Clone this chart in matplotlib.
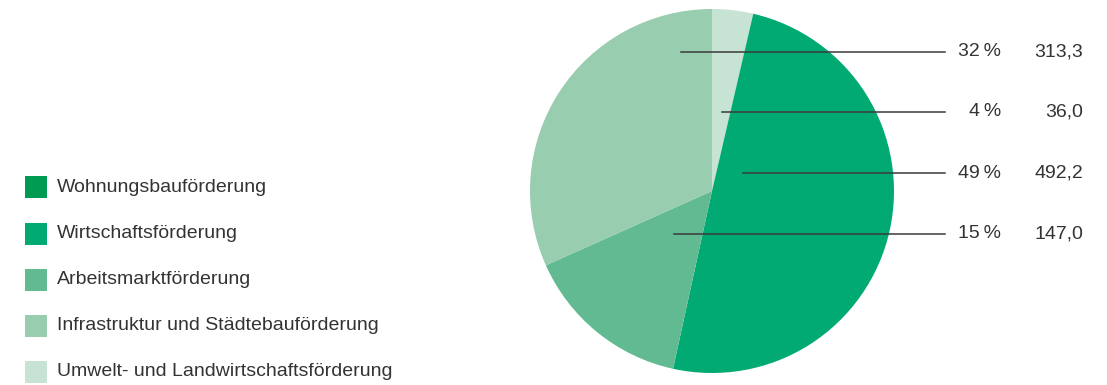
import matplotlib.pyplot as plt

# legend entries (top to bottom)
categories = ["Wohnungsbauförderung", "Wirtschaftsförderung", "Arbeitsmarktförderung",
              "Infrastruktur und Städtebauförderung", "Umwelt- und Landwirtschaftsförderung"]
colors = ["#009B52", "#00AA72", "#62BA92", "#98CDAF", "#C6E3D4"]

# pie wedges, clockwise from 12 o'clock
pie_labels = ["Umwelt- und Landwirtschaftsförderung", "Wirtschaftsförderung",
              "Arbeitsmarktförderung", "Infrastruktur und Städtebauförderung"]
pie_values = [36.0, 492.2, 147.0, 313.3]

# callouts (top to bottom)
callout_labels = ["Infrastruktur und Städtebauförderung", "Umwelt- und Landwirtschaftsförderung",
                  "Wirtschaftsförderung", "Arbeitsmarktförderung"]
callout_pct = ["32", "4", "49", "15"]
callout_vals = ["313,3", "36,0", "492,2", "147,0"]

W, H = 1107, 385
plt.rcParams['font.family'] = ['Liberation Sans', 'DejaVu Sans']
fig = plt.figure(figsize=(W / 100, H / 100), dpi=100)

cx, cy, r = 712, 191, 182
pax = fig.add_axes([(cx - r) / W, (H - cy - r) / H, 2 * r / W, 2 * r / H])
col_of = dict(zip(categories, colors))
pax.pie(pie_values, colors=[col_of[l] for l in pie_labels], startangle=90,
        counterclock=False, wedgeprops=dict(linewidth=0))
pax.set_xlim(-1, 1)
pax.set_ylim(-1, 1)
pax.set_aspect('equal')

# overlay in pixel coords
ov = fig.add_axes([0, 0, 1, 1], facecolor='none')
ov.set_xlim(0, W)
ov.set_ylim(H, 0)
ov.axis('off')

txt = "#333333"
fs = 14
line_y = [52, 112, 173, 234]
line_x0 = [681, 722, 743, 674]
for y, x0, p, v in zip(line_y, line_x0, callout_pct, callout_vals):
    ov.plot([x0, 945], [y, y], color="#3a3a3a", lw=1.1)
    ov.text(1001, y, p + "\u2009%", ha='right', va='center', fontsize=fs, color=txt)
    ov.text(1083, y, v, ha='right', va='center', fontsize=fs, color=txt)

leg_y = [187, 234, 280, 326, 372]
for y, lab, c in zip(leg_y, categories, colors):
    ov.add_patch(plt.Rectangle((25, y - 11), 22, 22, color=c, lw=0))
    ov.text(57, y, lab, ha='left', va='center', fontsize=fs, color=txt)

fig.savefig("out.png", dpi=100)
